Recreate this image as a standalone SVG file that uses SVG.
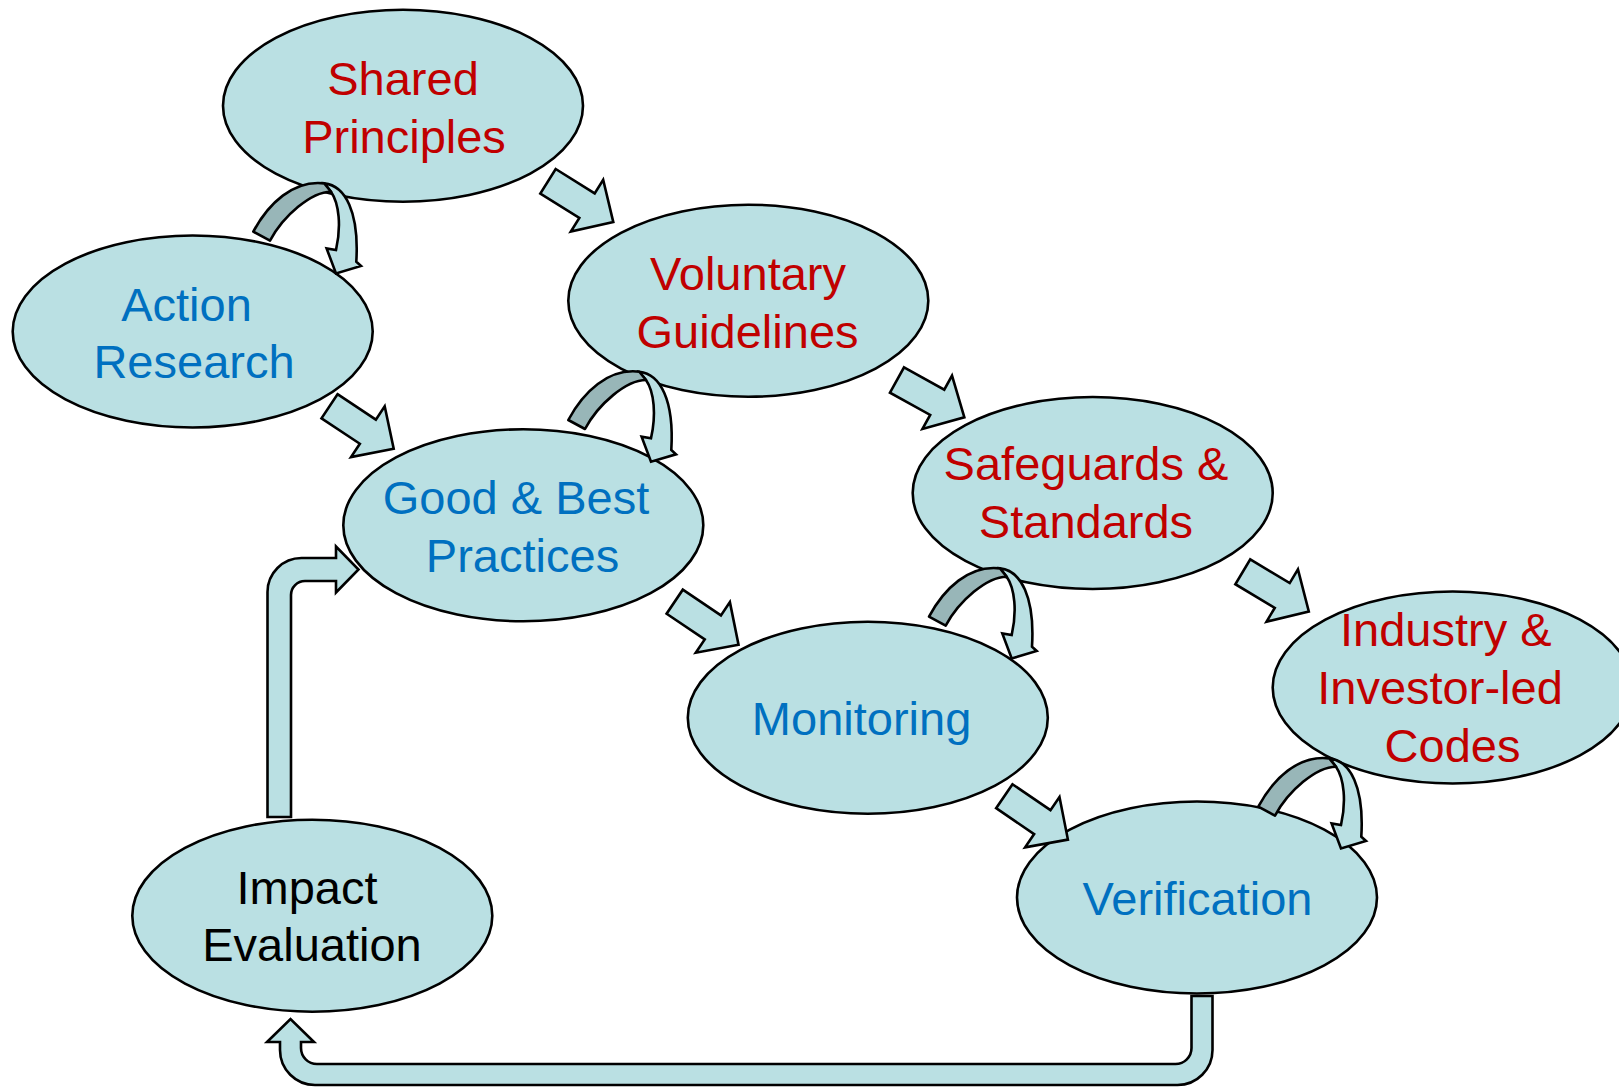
<svg xmlns="http://www.w3.org/2000/svg" xmlns:xlink="http://www.w3.org/1999/xlink" width="1619" height="1087" viewBox="0 0 1619 1087">
<defs>
<style>
.node ellipse{fill:#BAE0E3;stroke:#000;stroke-width:2.6}
.node text{font-family:"Liberation Sans",Arial,sans-serif;font-size:47px;text-anchor:middle}
.red{fill:#C00000}
.blue{fill:#0070C0}
.blk{fill:#000}
.arr{fill:#BAE0E3;stroke:#000;stroke-width:2.6;stroke-linejoin:miter}
.dark{fill:#98B6B8;stroke:#000;stroke-width:2.6;stroke-linejoin:round}
</style>
<polygon id="blockArrow" points="0,-14.5 46,-14.5 46,-30.5 77,0 46,30.5 46,14.5 0,14.5"/>
<g id="loopArrow">
<path class="arr" d="M71,-48.3 C92,-46 106,-20 103,30 L107.7,34.3 L82.7,41.7 L73.3,16.7 L82.7,18.3 C88,-5 86,-28 77.7,-40 Z"/>
<path class="dark" d="M0,0 C15,-28 40,-52 71,-48.3 L77.7,-40 C58,-40 30,-16 16.7,9 Z"/>
</g>
</defs>
<rect width="1619" height="1087" fill="#fff"/>

<g id="shared-principles" class="node">
<ellipse cx="403" cy="105.7" rx="180" ry="96"/>
<text class="red" x="403" y="94.5">Shared</text>
<text class="red" x="404" y="152.5">Principles</text>
</g>
<g id="action-research" class="node">
<ellipse cx="192.7" cy="331.5" rx="180" ry="96"/>
<text class="blue" x="186.5" y="320.5">Action</text>
<text class="blue" x="194" y="378.3">Research</text>
</g>
<g id="voluntary-guidelines" class="node">
<ellipse cx="748.3" cy="300.7" rx="180" ry="96"/>
<text class="red" x="748" y="290">Voluntary</text>
<text class="red" x="747.5" y="348">Guidelines</text>
</g>
<g id="good-best-practices" class="node">
<ellipse cx="523.3" cy="525.3" rx="180" ry="96"/>
<text class="blue" x="516" y="514">Good &amp; Best</text>
<text class="blue" x="522.5" y="572">Practices</text>
</g>
<g id="safeguards-standards" class="node">
<ellipse cx="1092.7" cy="493" rx="180" ry="96"/>
<text class="red" x="1086" y="480">Safeguards &amp;</text>
<text class="red" x="1086" y="538">Standards</text>
</g>
<g id="monitoring" class="node">
<ellipse cx="867.8" cy="717.7" rx="180" ry="96"/>
<text class="blue" x="861.6" y="735">Monitoring</text>
</g>
<g id="industry-investor-codes" class="node">
<ellipse cx="1452.7" cy="687.5" rx="180" ry="96"/>
<text class="red" x="1445.8" y="645.5">Industry &amp;</text>
<text class="red" x="1440" y="703.5">Investor-led</text>
<text class="red" x="1452.5" y="761.5">Codes</text>
</g>
<g id="verification" class="node">
<ellipse cx="1197" cy="897.5" rx="180" ry="96"/>
<text class="blue" x="1197.5" y="915">Verification</text>
</g>
<g id="impact-evaluation" class="node">
<ellipse cx="312.3" cy="915.7" rx="180" ry="96"/>
<text class="blk" x="307" y="903.5">Impact</text>
<text class="blk" x="312" y="961">Evaluation</text>
</g>

<g id="connectors">
<use xlink:href="#blockArrow" class="arr" transform="translate(548,181.3) rotate(32)"/>
<use xlink:href="#blockArrow" class="arr" transform="translate(329.5,406.3) rotate(33.5)"/>
<use xlink:href="#blockArrow" class="arr" transform="translate(897,380) rotate(29)"/>
<use xlink:href="#blockArrow" class="arr" transform="translate(674.7,601.7) rotate(34)"/>
<use xlink:href="#blockArrow" class="arr" transform="translate(1242.8,571.8) rotate(31)"/>
<use xlink:href="#blockArrow" class="arr" transform="translate(1004.3,796.2) rotate(34.3)"/>

<use xlink:href="#loopArrow" transform="translate(253.3,231.7)"/>
<use xlink:href="#loopArrow" transform="translate(568.3,420)"/>
<use xlink:href="#loopArrow" transform="translate(929,616.7)"/>
<use xlink:href="#loopArrow" transform="translate(1258.3,806.7)"/>

<path class="arr" d="M267.5,817 L267.5,592 A34,34 0 0 1 301.5,558 L336,558 L336,546.5 L358.5,569.5 L336,592.5 L336,581 L305,581 A14,14 0 0 0 291,595 L291,817 Z"/>
<path class="arr" d="M1191.5,996 L1191.5,1048 A16,16 0 0 1 1175.5,1064 L317,1064 A16,16 0 0 1 301,1048 L301,1042 L314,1042 L290.5,1019 L267,1042 L280,1042 L280,1050 A35,35 0 0 0 315,1085 L1177.5,1085 A35,35 0 0 0 1212.5,1050 L1212.5,996 Z"/>
</g>
</svg>
